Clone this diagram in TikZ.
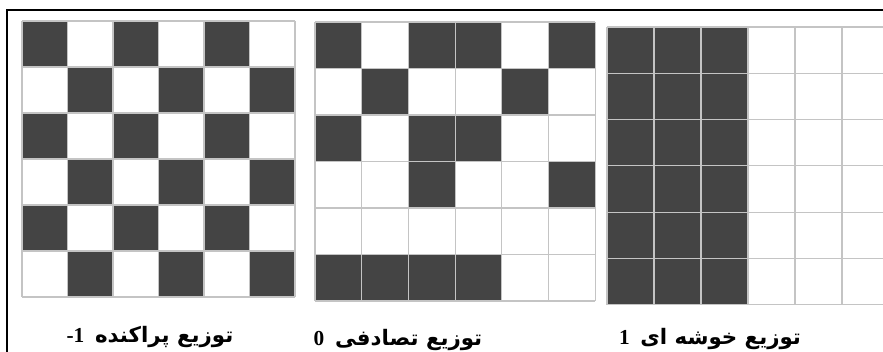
\documentclass[tikz,border=0pt]{standalone}
\usepackage{fontspec}
\setmainfont{Liberation Serif}
\newfontfamily\arabicfont[Script=Arabic]{DejaVu Sans}
\TeXXeTstate=1
\definecolor{cellgray}{HTML}{444444}
\definecolor{linegray}{HTML}{C4C4C4}
\tikzset{
  darkcell/.style={fill=cellgray},
  gridline/.style={draw=linegray, line width=0.9pt},
  caption/.style={inner sep=0pt, font=\fontsize{16}{19}\selectfont}
}

\begin{document}
\begin{tikzpicture}[x=0.75pt, y=-0.75pt]
	\useasboundingbox (0,0) rectangle (883,352);
	\clip (0,0) rectangle (883,352);
	\fill[white] (0,0) rectangle (883,352);
	% frame, open at right and bottom
	\draw[line width=1.6pt] (890,10) -- (7,10) -- (7,360);

	% scattered: checkerboard
	\foreach \r in {0,...,5}
		\foreach \c in {0,...,5}{
			\pgfmathtruncatemacro\odd{mod(\r+\c,2)}
			\ifnum\odd=0 \fill[darkcell] ({22+\c*45.5},{21+\r*46}) rectangle ++(45.5,46); \fi
		}
	\foreach \i in {0,...,6}{
		\draw[gridline] ({22+\i*45.5},21) -- ++(0,276);
		\draw[gridline] (22,{21+\i*46}) -- ++(273,0);
	}

	% random
	\foreach \c/\r in {0/0,2/0,3/0,5/0,1/1,4/1,0/2,2/2,3/2,2/3,5/3,0/5,1/5,2/5,3/5}
		\fill[darkcell] ({315+\c*46.7},{22+\r*46.5}) rectangle ++(46.7,46.5);
	\foreach \i in {0,...,6}{
		\draw[gridline] ({315+\i*46.7},22) -- ++(0,279);
		\draw[gridline] (315,{22+\i*46.5}) -- ++(280.2,0);
	}

	% clustered
	\fill[darkcell] (607,27) rectangle ++(141,277.8);
	\foreach \i in {0,...,6}{
		\draw[gridline] ({607+\i*47},27) -- ++(0,277.8);
		\draw[gridline] (607,{27+\i*46.3}) -- ++(282,0);
	}

	% captions
	\node[caption](lblA) at (150,337){{\bfseries -1}\enspace{\arabicfont\bfseries\beginR توزیع پراکنده\endR}};
	\node[caption](lblB) at (398,340){{\bfseries 0}\enspace{\arabicfont\bfseries\beginR توزیع تصادفی\endR}};
	\node[caption](lblC) at (710,339){{\bfseries 1}\enspace{\arabicfont\bfseries\beginR توزیع خوشه ای\endR}};
\end{tikzpicture}
\end{document}
